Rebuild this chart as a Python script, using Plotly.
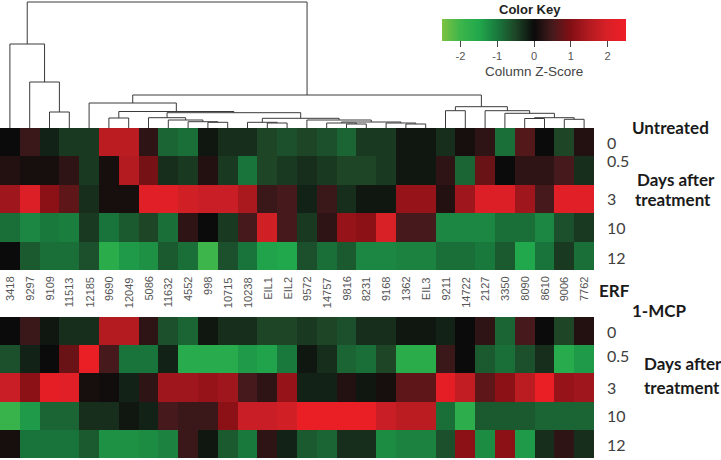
import plotly.graph_objects as go

# ---------------- data ----------------
genes = ["3418", "9297", "9109", "11513", "12185", "9690", "12049", "5086", "11632", "4552",
         "998", "10715", "10238", "EIL1", "EIL2", "9572", "14757", "9816", "8231", "9168",
         "1362", "EIL3", "9211", "14722", "2127", "3350", "8090", "8610", "9006", "7762"]
days = ["0", "0.5", "3", "10", "12"]

untreated_z = [
    [0.0, 0.4, -0.2, -0.4, -0.4, 1.6, 1.6, 0.3, -0.8, -0.9, -0.1, -0.3, -0.3, -0.5, -0.6,
     -0.5, -0.6, -0.8, -0.4, -0.4, -0.1, -0.1, -0.3, 0.1, 0.3, -0.9, 0.6, 0.0, -0.5, 0.2],
    [0.2, 0.1, 0.1, 0.3, -0.4, 0.1, 1.5, 0.9, -0.3, -0.4, 0.2, -0.4, -0.95, -0.5, -0.4,
     -0.3, -0.4, -0.5, -0.5, -0.4, -0.1, -0.1, 0.3, -0.8, 0.8, 0.0, 0.3, 0.3, 0.5, -0.3],
    [1.3, 2.1, 1.1, 0.7, -0.3, 0.1, 0.1, 2.2, 2.2, 1.9, 1.8, 1.8, 1.4, 0.4, 0.5,
     -0.2, 0.4, -0.3, -0.1, -0.1, 1.2, 1.2, 0.2, 1.3, 2.1, 2.1, 1.3, 0.5, 2.2, 2.2],
    [-0.9, -1.15, -1.0, -1.05, -0.4, -0.95, -0.7, -0.5, -0.9, 0.3, 0.0, -0.4, 0.5, 1.9, 0.5,
     -0.4, 0.3, 1.2, 1.1, 2.0, 0.5, 0.5, -1.15, -1.15, -1.15, -0.9, -0.9, -1.15, -0.6, -0.4],
    [0.0, -0.7, -0.9, -0.9, -0.6, -1.65, -1.35, -1.25, -0.7, -0.9, -2.0, -0.6, -0.95, -1.45, -1.5,
     -0.6, -0.9, -0.7, -1.15, -1.15, -1.1, -1.1, -0.9, -0.9, -1.0, -0.7, -1.5, -0.95, -0.4, -0.9],
]

mcp_z = [
    [0.0, 0.4, -0.1, -0.3, -0.3, 1.5, 1.5, 0.3, -0.6, -0.8, -0.1, -0.3, -0.3, -0.5, -0.5,
     -0.4, -0.5, -0.6, -0.3, -0.3, -0.1, -0.1, -0.2, 0.0, 0.3, -0.8, 0.5, 0.0, -0.5, 0.2],
    [-0.6, -0.2, 0.0, 0.8, 2.4, 0.5, -0.95, -0.95, -0.2, -1.6, -1.6, -1.6, -1.35, -1.45, -1.0,
     -0.1, -0.3, -0.8, -0.9, -0.5, -1.65, -1.65, 0.4, 0.0, -0.7, -0.9, -0.6, -0.3, -1.6, -1.35],
    [1.8, 1.1, 2.3, 2.2, 0.1, 0.05, -0.2, 0.3, 1.3, 1.3, 1.2, 1.3, 0.5, 0.3, 1.2,
     -0.2, -0.2, 0.2, -0.1, 0.1, 0.7, 0.7, 2.3, 1.7, 0.7, 1.1, 1.6, 2.4, 1.2, 1.3],
    [-1.9, -1.35, -0.8, -0.8, -0.3, -0.3, -0.1, -0.2, 0.5, 0.4, 0.4, 1.1, 1.8, 1.8, 1.9,
     2.4, 2.4, 2.4, 2.4, 1.8, 1.6, 1.6, -0.9, -1.7, -0.7, -0.7, -0.7, -0.8, -0.8, -0.8],
    [0.1, -0.95, -0.95, -0.95, -0.7, -1.25, -1.25, -1.2, -1.1, 0.4, -0.1, -0.7, -1.0, 0.3, -0.2,
     -0.7, -0.8, -0.3, -0.3, -1.2, -1.1, -1.1, -0.6, 1.1, -1.2, 1.1, -1.35, -0.3, 0.3, -0.3],
]

# column dendrogram: merge id, left child, right child, merge height
merge_id = ["L2", "L1", "L0", "D", "I", "H", "G", "F", "Lx", "J", "M1a", "M1", "M2a", "M2",
            "M", "K", "G2", "E", "C", "A", "B1", "B5", "B6", "B4", "B3", "B2", "B", "R", "root"]
merge_left = ["9109", "9297", "3418", "9690", "998", "4552", "11632", "5086", "EIL1", "10238",
              "9816", "14757", "1362", "9168", "M1", "9572", "J", "F", "D", "12185",
              "9211", "8090", "9006", "B5", "3350", "2127", "B1", "A", "L0"]
merge_right = ["11513", "L2", "L1", "12049", "10715", "I", "H", "G", "EIL2", "Lx",
               "8231", "M1a", "EIL3", "M2a", "M2", "M", "K", "G2", "E", "C",
               "14722", "8610", "7762", "B6", "B4", "B3", "B2", "B", "R"]
merge_height = [16, 46, 84, 10, 5.7, 6.3, 8, 10.3, 5, 5.7,
                4, 5, 4, 5, 6, 8, 9.7, 15.3, 16.5, 25,
                17.3, 9.5, 8.7, 10.3, 14.7, 17.3, 21.3, 33, 126]

key_ticks = [-2, -1, 0, 1, 2]

# ---------------- layout helpers ----------------
W, H = 721, 460
def px_x(p):
    return p / W
def px_y(p):
    return 1 - p / H

HM_RIGHT = 594
TOP_Y0, TOP_Y1 = 128, 270
BOT_Y0, BOT_Y1 = 317, 458

colorscale = [
    [0.0, "#7dc242"], [0.1, "#3db54a"], [0.2, "#22a84c"], [0.3, "#19793d"],
    [0.4, "#1d4526"], [0.5, "#0b0b0b"], [0.6, "#461a1c"], [0.7, "#820f14"],
    [0.8, "#b31b21"], [0.9, "#d82027"], [1.0, "#ee1d25"],
]

fig = go.Figure()
cols = list(range(len(genes)))
rows = list(range(len(days)))

fig.add_trace(go.Heatmap(
    z=untreated_z, x=cols, y=rows, colorscale=colorscale, zmin=-2.5, zmax=2.5,
    xaxis="x", yaxis="y", hoverinfo="skip",
    colorbar=dict(
        orientation="h", x=px_x(534), xanchor="center", y=px_y(19), yanchor="top",
        len=184, lenmode="pixels", thickness=22, thicknessmode="pixels",
        outlinewidth=0, xpad=0, ypad=0, ticks="outside", ticklen=6, tickwidth=1,
        tickcolor="#444", tickvals=key_ticks, ticktext=[str(t) for t in key_ticks],
        tickfont=dict(family="Liberation Sans, Arial", size=11, color="#555"),
    ),
))
fig.add_trace(go.Heatmap(
    z=mcp_z, x=cols, y=rows, colorscale=colorscale, zmin=-2.5, zmax=2.5,
    xaxis="x2", yaxis="y2", showscale=False, hoverinfo="skip",
))

# dendrogram
pos = {g: float(i) for i, g in enumerate(genes)}
hgt = {g: 0.0 for g in genes}
lx, ly = [], []
for mid, a, b, h in zip(merge_id, merge_left, merge_right, merge_height):
    xa, xb = pos[a], pos[b]
    lx += [xa, xa, xb, xb, None]
    ly += [hgt[a], h, h, hgt[b], None]
    pos[mid] = (xa + xb) / 2
    hgt[mid] = h
fig.add_trace(go.Scatter(x=lx, y=ly, mode="lines", xaxis="x3", yaxis="y3",
                         line=dict(color="#3a3a3a", width=1), hoverinfo="skip",
                         showlegend=False))

xr = [-0.5, len(genes) - 0.5]
xdom = [0, px_x(HM_RIGHT)]
ax_off = dict(visible=False, showgrid=False, zeroline=False, fixedrange=True)
fig.update_layout(
    width=W, height=H, margin=dict(l=0, r=0, t=0, b=0),
    paper_bgcolor="white", plot_bgcolor="white", showlegend=False,
    xaxis=dict(domain=xdom, range=xr, anchor="y", **ax_off),
    yaxis=dict(domain=[px_y(TOP_Y1), px_y(TOP_Y0)], range=[4.5, -0.5], anchor="x", **ax_off),
    xaxis2=dict(domain=xdom, range=xr, anchor="y2", **ax_off),
    yaxis2=dict(domain=[px_y(BOT_Y1), px_y(BOT_Y0)], range=[4.5, -0.5], anchor="x2", **ax_off),
    xaxis3=dict(domain=xdom, range=xr, anchor="y3", **ax_off),
    yaxis3=dict(domain=[px_y(TOP_Y0), 1], range=[0, 128], anchor="x3", **ax_off),
)

ann = []
# column labels
for i, g in enumerate(genes):
    ann.append(dict(x=i, xref="x", y=px_y(275), yref="paper", text=g, showarrow=False,
                    textangle=-90, xanchor="center", yanchor="top",
                    font=dict(family="Liberation Sans, Arial", size=11, color="#555")))
# row labels
top_shift = [0, 10, 0, 0, -2]
bot_shift = [0, 4, 0, 0, -1]
lab_font = dict(family="Lato", size=16, color="#404040")
for i, d in enumerate(days):
    ann.append(dict(x=px_x(605), xref="paper", y=i, yref="y", text=d, showarrow=False,
                    xanchor="left", yanchor="middle", yshift=top_shift[i], font=lab_font))
    ann.append(dict(x=px_x(605), xref="paper", y=i, yref="y2", text=d, showarrow=False,
                    xanchor="left", yanchor="middle", yshift=bot_shift[i], font=lab_font))

bold_font = dict(family="Lato", size=17, color="#1a1a1a")
for txt, x, y in [("<b>Untreated</b>", 630, 127), ("<b>Days after</b>", 635, 179),
                  ("<b>treatment</b>", 633, 199), ("<b>ERF</b>", 597, 290),
                  ("<b>1-MCP</b>", 630, 310), ("<b>Days after</b>", 642, 363),
                  ("<b>treatment</b>", 642, 387)]:
    ann.append(dict(x=px_x(x), y=px_y(y), xref="paper", yref="paper", text=txt,
                    showarrow=False, xanchor="left", yanchor="middle", font=bold_font))

ann.append(dict(x=px_x(530), y=px_y(10), xref="paper", yref="paper", text="<b>Color Key</b>",
                showarrow=False, xanchor="center", yanchor="middle",
                font=dict(family="Liberation Sans, Arial", size=13, color="#222")))
ann.append(dict(x=px_x(534), y=px_y(71), xref="paper", yref="paper", text="Column Z-Score",
                showarrow=False, xanchor="center", yanchor="middle",
                font=dict(family="Liberation Sans, Arial", size=13.5, color="#444")))
fig.update_layout(annotations=ann)

fig.write_html("out.html", config={"displayModeBar": False},
               post_script="document.body.style.margin='0px';document.body.style.padding='0px';")
